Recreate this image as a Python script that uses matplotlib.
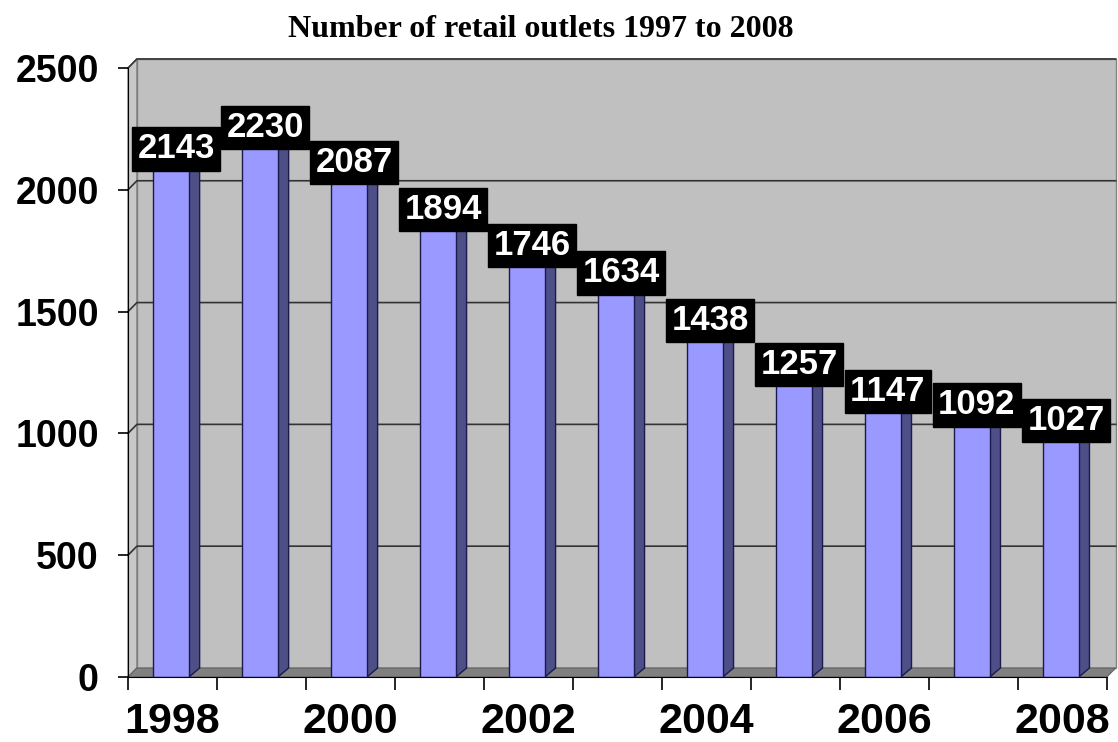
import matplotlib.pyplot as plt
from matplotlib.patches import Polygon

years = [1998, 1999, 2000, 2001, 2002, 2003, 2004, 2005, 2006, 2007, 2008]
outlets = [2143, 2230, 2087, 1894, 1746, 1634, 1438, 1257, 1147, 1092, 1027]
tick_years = ["1998", "2000", "2002", "2004", "2006", "2008"]
y_ticks = [0, 500, 1000, 1500, 2000, 2500]

front = "#9999ff"
side = "#4f4f88"
edge = "#1a1a4d"
wall = "#c0c0c0"
floor = "#808080"

fig = plt.figure(figsize=(11.18, 7.42), dpi=100)
ax = fig.add_axes([0.1145, 0.0876, 0.8755, 0.8208])
n = len(years)
ax.set_xlim(0, n)
ax.set_ylim(0, 2500)
ax.set_facecolor("none")

# fake 3d depth in data units
dx, dy = 0.1, 37

# back wall, left wall, floor
ax.add_patch(Polygon([(dx, dy), (n + dx, dy), (n + dx, 2500 + dy), (dx, 2500 + dy)],
                     closed=True, fc=wall, ec="#808080", lw=1, clip_on=False, zorder=0))
ax.add_patch(Polygon([(0, 0), (dx, dy), (dx, 2500 + dy), (0, 2500)],
                     closed=True, fc="#c8c8c8", ec="#808080", lw=1, clip_on=False, zorder=0))
ax.add_patch(Polygon([(0, 0), (n, 0), (n + dx, dy), (dx, dy)],
                     closed=True, fc=floor, ec="#606060", lw=0.8, clip_on=False, zorder=0.5))

# gridlines on the back wall
for v in y_ticks[1:]:
    ax.plot([0, dx, n + dx], [v, v + dy, v + dy], color="#333333", lw=1.2,
            clip_on=False, zorder=0.3)

# bars
w = 0.405
sx = 0.12
for i, v in enumerate(outlets):
    x0 = i + 0.28
    x1 = x0 + w
    ax.add_patch(Polygon([(x1, 0), (x1 + sx, dy), (x1 + sx, v + dy), (x1, v)],
                         closed=True, fc=side, ec=edge, lw=1, zorder=2))
    ax.add_patch(Polygon([(x0, v), (x1, v), (x1 + sx, v + dy), (x0 + sx, v + dy)],
                         closed=True, fc="#b0b0ff", ec=edge, lw=1, zorder=2))
    ax.add_patch(Polygon([(x0, 0), (x1, 0), (x1, v), (x0, v)],
                         closed=True, fc=front, ec=edge, lw=1, zorder=3))
    ax.text(i + 0.54, v + dy - 12, str(v), ha="center", va="center", color="white",
            fontsize=25, fontweight="bold", family="Liberation Sans", zorder=5,
            bbox=dict(boxstyle="square,pad=0.15", fc="black", ec="black"))

# axes
for s in ["top", "right"]:
    ax.spines[s].set_visible(False)
ax.spines["left"].set_color("black")
ax.spines["bottom"].set_color("black")
ax.spines["left"].set_zorder(4)
ax.spines["bottom"].set_zorder(4)

ax.set_yticks(y_ticks)
ax.set_yticklabels([str(t) for t in y_ticks], fontsize=27, fontweight="bold",
                   family="Liberation Sans")
ax.tick_params(axis="y", length=7, width=1.2, pad=14)

ax.set_xticks(range(n + 1))
ax.set_xticklabels([])
ax.tick_params(axis="x", which="major", length=9, width=1.2)
ax.set_xticks([i + 0.5 for i in range(0, n, 2)], minor=True)
ax.set_xticklabels(tick_years, minor=True, fontsize=31, fontweight="bold",
                   family="Liberation Sans")
ax.tick_params(axis="x", which="minor", length=0, pad=18)

fig.text(0.484, 0.96, "Number of retail outlets 1997 to 2008", ha="center", va="center",
         fontsize=23, fontweight="bold", family="Liberation Serif")

fig.savefig("out.png", dpi=100)
